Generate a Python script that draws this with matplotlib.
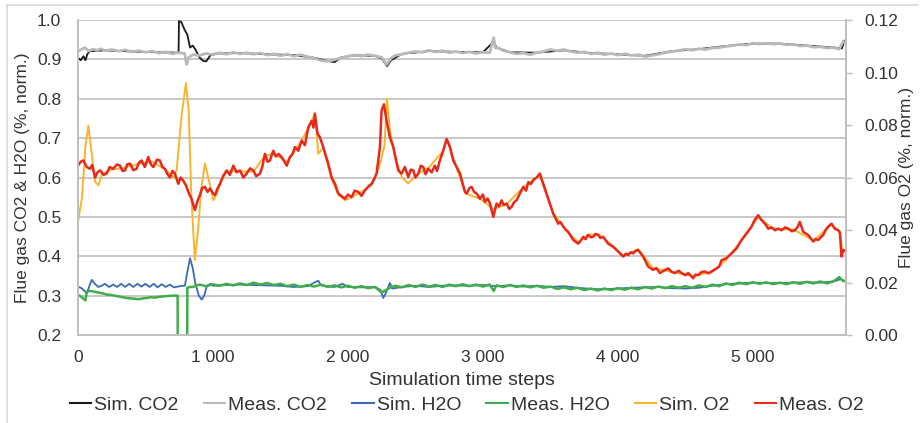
import matplotlib.pyplot as plt
from matplotlib.lines import Line2D

plt.rcParams['font.family'] = ['Liberation Sans', 'DejaVu Sans']

# Simulated / measured flue gas, left axis (CO2, H2O) in norm. %
sim_co2_t = [0, 20, 40, 55, 70, 90, 200, 400, 600, 745, 748, 765, 790, 810, 830, 850, 870, 900, 928, 950,
             980, 1020, 1200, 1400, 1600, 1750, 1850, 1900, 1950, 2050, 2200, 2250, 2290, 2320, 2400, 2600,
             2800, 3000, 3080, 3100, 3200, 3400, 3600, 3800, 4000, 4200, 4400, 4600, 4800, 5000, 5200, 5400,
             5600, 5660, 5680, 5690]
sim_co2 = [0.904, 0.898, 0.908, 0.898, 0.914, 0.921, 0.923, 0.920, 0.918, 0.917, 0.997, 0.995, 0.975, 0.963,
           0.930, 0.935, 0.925, 0.905, 0.896, 0.895, 0.910, 0.915, 0.916, 0.913, 0.911, 0.904, 0.896, 0.893,
           0.905, 0.910, 0.909, 0.902, 0.883, 0.898, 0.914, 0.921, 0.919, 0.918, 0.945, 0.930, 0.918, 0.917,
           0.923, 0.916, 0.913, 0.909, 0.921, 0.926, 0.934, 0.940, 0.940, 0.935, 0.930, 0.928, 0.948, 0.945]

meas_co2_t = [0, 25, 50, 80, 110, 140, 170, 200, 250, 300, 350, 400, 450, 500, 550, 600, 650, 700, 740, 790,
              805, 820, 850, 900, 950, 1000, 1050, 1100, 1150, 1200, 1250, 1300, 1350, 1400, 1450, 1500, 1550,
              1600, 1650, 1700, 1750, 1800, 1850, 1900, 1950, 2000, 2050, 2100, 2150, 2200, 2250, 2287, 2320,
              2350, 2400, 2450, 2500, 2550, 2600, 2650, 2700, 2750, 2800, 2850, 2900, 2950, 3000, 3050, 3080,
              3090, 3120, 3150, 3200, 3250, 3300, 3350, 3400, 3450, 3500, 3550, 3600, 3650, 3700, 3750, 3800,
              3850, 3900, 3950, 4000, 4050, 4100, 4150, 4200, 4250, 4300, 4350, 4400, 4450, 4500, 4550, 4600,
              4650, 4700, 4750, 4800, 4850, 4900, 4950, 5000, 5050, 5100, 5150, 5200, 5250, 5300, 5350, 5400,
              5450, 5500, 5550, 5600, 5640, 5670, 5690]
meas_co2 = [0.921, 0.925, 0.930, 0.921, 0.926, 0.923, 0.927, 0.922, 0.925, 0.921, 0.924, 0.919, 0.922, 0.918,
            0.921, 0.916, 0.919, 0.914, 0.917, 0.915, 0.887, 0.905, 0.912, 0.910, 0.915, 0.912, 0.917, 0.913,
            0.918, 0.914, 0.917, 0.913, 0.916, 0.911, 0.914, 0.909, 0.913, 0.908, 0.912, 0.907, 0.903, 0.897,
            0.895, 0.899, 0.904, 0.908, 0.911, 0.908, 0.912, 0.909, 0.905, 0.887, 0.903, 0.910, 0.913, 0.917,
            0.920, 0.918, 0.923, 0.919, 0.922, 0.917, 0.920, 0.916, 0.919, 0.915, 0.918, 0.917, 0.955, 0.930,
            0.928, 0.922, 0.918, 0.914, 0.916, 0.912, 0.917, 0.920, 0.925, 0.922, 0.925, 0.920, 0.917, 0.919,
            0.914, 0.917, 0.912, 0.915, 0.911, 0.914, 0.910, 0.912, 0.907, 0.910, 0.913, 0.917, 0.920, 0.922,
            0.926, 0.923, 0.927, 0.925, 0.929, 0.930, 0.933, 0.935, 0.938, 0.936, 0.941, 0.939, 0.941, 0.939,
            0.940, 0.937, 0.938, 0.934, 0.935, 0.931, 0.932, 0.929, 0.930, 0.926, 0.946, 0.940]

sim_h2o_t = [0, 30, 65, 85, 102, 125, 150, 175, 200, 230, 260, 290, 320, 350, 380, 410, 440, 470, 500, 530,
             560, 590, 620, 650, 680, 710, 740, 770, 792, 810, 830, 850, 870, 895, 916, 935, 955, 980, 1000,
             1100, 1200, 1300, 1400, 1500, 1600, 1700, 1780, 1800, 1900, 1960, 2000, 2100, 2200, 2240, 2262,
             2285, 2310, 2330, 2400, 2500, 2600, 2700, 2800, 2900, 3000, 3100, 3200, 3300, 3400, 3500, 3600,
             3700, 3800, 3900, 4000, 4100, 4200, 4300, 4400, 4500, 4600, 4700, 4800, 4900, 5000, 5100, 5200,
             5300, 5400, 5500, 5600, 5650, 5690]
sim_h2o = [0.323, 0.318, 0.306, 0.325, 0.340, 0.330, 0.322, 0.325, 0.330, 0.322, 0.328, 0.322, 0.330, 0.322,
           0.330, 0.322, 0.330, 0.323, 0.330, 0.322, 0.330, 0.321, 0.329, 0.322, 0.328, 0.321, 0.323, 0.325,
           0.325, 0.360, 0.395, 0.370, 0.330, 0.300, 0.290, 0.300, 0.325, 0.330, 0.325, 0.327, 0.328, 0.327,
           0.326, 0.325, 0.322, 0.324, 0.338, 0.326, 0.322, 0.330, 0.322, 0.321, 0.322, 0.315, 0.294, 0.310,
           0.332, 0.318, 0.322, 0.325, 0.322, 0.325, 0.326, 0.325, 0.327, 0.324, 0.326, 0.323, 0.325, 0.322,
           0.324, 0.320, 0.317, 0.316, 0.318, 0.320, 0.321, 0.322, 0.319, 0.318, 0.320, 0.325, 0.329, 0.331,
           0.333, 0.332, 0.332, 0.333, 0.334, 0.333, 0.336, 0.342, 0.336]

meas_h2o_t = [0, 20, 40, 55, 65, 90, 120, 150, 180, 210, 240, 270, 300, 330, 360, 390, 420, 450, 480, 510,
              540, 570, 600, 630, 660, 700, 738, 740, 808, 810, 830,
              850, 900, 950, 1000, 1050, 1100, 1150, 1200, 1250, 1300, 1350, 1400, 1450, 1500, 1550, 1600,
              1650, 1700, 1750, 1800, 1850, 1900, 1950, 2000, 2050, 2100, 2150, 2200, 2250, 2300, 2350, 2400,
              2450, 2500, 2550, 2600, 2650, 2700, 2750, 2800, 2850, 2900, 2950, 3000, 3050, 3080, 3100, 3150,
              3200, 3250, 3300, 3350, 3400, 3450, 3500, 3550, 3600, 3650, 3700, 3750, 3800, 3850, 3900, 3950,
              4000, 4050, 4100, 4150, 4200, 4250, 4300, 4350, 4400, 4450, 4500, 4550, 4600, 4650, 4700, 4750,
              4800, 4850, 4900, 4950, 5000, 5050, 5100, 5150, 5200, 5250, 5300, 5350, 5400, 5450, 5500, 5550,
              5600, 5640, 5665, 5690]
meas_h2o = [0.302, 0.298, 0.292, 0.288, 0.310, 0.312, 0.310, 0.308, 0.306, 0.303, 0.302, 0.300, 0.298, 0.296,
            0.294, 0.293, 0.292, 0.291, 0.293, 0.294, 0.296, 0.295, 0.297, 0.298, 0.299, 0.300, 0.300, 0.0,
            0.0, 0.320, 0.322,
            0.322, 0.328, 0.324, 0.329, 0.325, 0.330, 0.326, 0.331, 0.327, 0.333, 0.328, 0.332, 0.327, 0.330,
            0.324, 0.328, 0.322, 0.327, 0.323, 0.328, 0.322, 0.326, 0.321, 0.325, 0.320, 0.324, 0.319, 0.322,
            0.308, 0.318, 0.325, 0.321, 0.327, 0.322, 0.328, 0.323, 0.327, 0.322, 0.328, 0.324, 0.329, 0.324,
            0.328, 0.323, 0.328, 0.312, 0.326, 0.322, 0.327, 0.322, 0.326, 0.321, 0.325, 0.320, 0.323, 0.317,
            0.321, 0.316, 0.320, 0.314, 0.318, 0.313, 0.318, 0.314, 0.319, 0.315, 0.320, 0.316, 0.322, 0.318,
            0.323, 0.319, 0.324, 0.320, 0.324, 0.320, 0.326, 0.322, 0.328, 0.324, 0.331, 0.327, 0.333, 0.329,
            0.334, 0.330, 0.334, 0.329, 0.333, 0.329, 0.334, 0.330, 0.335, 0.331, 0.336, 0.331, 0.337, 0.347,
            0.338, 0.336]

# Right axis (O2) in norm. %
sim_o2_t = [0, 30, 55, 77, 95, 126, 151, 180, 250, 350, 450, 550, 650, 710, 731, 768, 800, 820, 840, 866,
            890, 916, 941, 965, 1003, 1030, 1060, 1100, 1200, 1300, 1385, 1450, 1550, 1650, 1730, 1755, 1780,
            1817, 1880, 1930, 1980, 2080, 2175, 2225, 2249, 2270, 2290, 2311, 2350, 2400, 2447, 2520, 2600,
            2700, 2735, 2790, 2870, 2980, 3077, 3175, 3300, 3420, 3520, 3630, 3710, 3780, 3860, 3965, 4040,
            4150, 4260, 4400, 4560, 4700, 4800, 4950, 5040, 5150, 5300, 5450, 5580, 5640, 5665, 5690]
sim_o2 = [0.0431, 0.0525, 0.0720, 0.0798, 0.0720, 0.0585, 0.0570, 0.0615, 0.0630, 0.0638, 0.0653, 0.0660,
          0.0630, 0.0600, 0.0630, 0.0840, 0.0960, 0.0855, 0.0525, 0.0285, 0.0405, 0.0570, 0.0653, 0.0600,
          0.0513, 0.0540, 0.0585, 0.0623, 0.0623, 0.0623, 0.0683, 0.0690, 0.0660, 0.0735, 0.0810, 0.0848,
          0.0690, 0.0713, 0.0593, 0.0533, 0.0513, 0.0540, 0.0570, 0.0630, 0.0675, 0.0720, 0.0900, 0.0780,
          0.0675, 0.0600, 0.0578, 0.0615, 0.0638, 0.0698, 0.0743, 0.0660, 0.0540, 0.0518, 0.0480, 0.0498,
          0.0563, 0.0608, 0.0465, 0.0390, 0.0353, 0.0383, 0.0383, 0.0338, 0.0300, 0.0327, 0.0255, 0.0240,
          0.0225, 0.0240, 0.0285, 0.0383, 0.0450, 0.0405, 0.0402, 0.0360, 0.0420, 0.0398, 0.0315, 0.0323]

meas_o2_t = [0, 20, 40, 65, 89, 105, 126, 145, 163, 190, 212, 235, 260, 290, 311, 330, 348, 365, 385, 410,
             434, 450, 471, 495, 521, 540, 558, 585, 607, 625, 644, 660, 681, 700, 718, 743, 760, 780, 800,
             817, 840, 866, 885, 903, 920, 941, 960, 978, 1000, 1015, 1035, 1052, 1075, 1101, 1125, 1151,
             1175, 1200, 1225, 1249, 1275, 1298, 1320, 1348, 1365, 1385, 1405, 1422, 1447, 1465, 1484, 1509,
             1530, 1546, 1570, 1590, 1607, 1632, 1657, 1681, 1706, 1731, 1745, 1755, 1775, 1792, 1817, 1854,
             1879, 1904, 1928, 1950, 1978, 2000, 2027, 2050, 2077, 2100, 2126, 2150, 2175, 2195, 2212, 2237,
             2249, 2267, 2286, 2311, 2336, 2373, 2397, 2422, 2447, 2465, 2484, 2500, 2521, 2540, 2558, 2575,
             2595, 2620, 2644, 2660, 2681, 2706, 2731, 2756, 2780, 2805, 2830, 2867, 2880, 2900, 2916, 2935,
             2953, 2978, 3000, 3015, 3035, 3052, 3077, 3101, 3120, 3138, 3155, 3175, 3195, 3212, 3230, 3249,
             3274, 3299, 3320, 3336, 3355, 3373, 3398, 3422, 3447, 3484, 3521, 3558, 3575, 3595, 3615, 3632,
             3669, 3706, 3725, 3743, 3760, 3780, 3800, 3817, 3835, 3854, 3870, 3891, 3928, 3965, 4002, 4039,
             4060, 4076, 4095, 4113, 4130, 4150, 4187, 4224, 4261, 4285, 4311, 4340, 4373, 4400, 4422, 4450,
             4472, 4500, 4521, 4558, 4575, 4595, 4620, 4644, 4670, 4694, 4731, 4750, 4768, 4805, 4842, 4879,
             4916, 4953, 4990, 5015, 5040, 5060, 5077, 5095, 5114, 5140, 5163, 5190, 5212, 5240, 5262, 5290,
             5311, 5330, 5348, 5373, 5410, 5447, 5465, 5484, 5521, 5540, 5558, 5583, 5607, 5632, 5645, 5657,
             5670, 5690]
meas_o2 = [0.0645, 0.0660, 0.0665, 0.0640, 0.0633, 0.0648, 0.0600, 0.0620, 0.0627, 0.0610, 0.0615, 0.0640,
           0.0633, 0.0650, 0.0645, 0.0625, 0.0627, 0.0650, 0.0653, 0.0628, 0.0633, 0.0655, 0.0665, 0.0640,
           0.0678, 0.0650, 0.0640, 0.0668, 0.0665, 0.0640, 0.0633, 0.0615, 0.0600, 0.0625, 0.0615, 0.0576,
           0.0600, 0.0588, 0.0570, 0.0545, 0.0520, 0.0476, 0.0510, 0.0533, 0.0560, 0.0564, 0.0545, 0.0558,
           0.0540, 0.0533, 0.0560, 0.0576, 0.0605, 0.0627, 0.0610, 0.0645, 0.0620, 0.0627, 0.0600, 0.0615,
           0.0635, 0.0627, 0.0605, 0.0615, 0.0640, 0.0690, 0.0660, 0.0665, 0.0702, 0.0680, 0.0690, 0.0678,
           0.0660, 0.0645, 0.0678, 0.0690, 0.0716, 0.0702, 0.0741, 0.0723, 0.0791, 0.0816, 0.0790, 0.0842,
           0.0767, 0.0753, 0.0716, 0.0653, 0.0600, 0.0576, 0.0539, 0.0530, 0.0519, 0.0535, 0.0525, 0.0550,
           0.0545, 0.0530, 0.0551, 0.0565, 0.0576, 0.0595, 0.0615, 0.0716, 0.0855, 0.0879, 0.0816, 0.0753,
           0.0716, 0.0627, 0.0615, 0.0640, 0.0602, 0.0630, 0.0627, 0.0600, 0.0615, 0.0645, 0.0640, 0.0612,
           0.0633, 0.0620, 0.0645, 0.0625, 0.0665, 0.0702, 0.0747, 0.0716, 0.0665, 0.0640, 0.0615, 0.0545,
           0.0539, 0.0560, 0.0564, 0.0545, 0.0539, 0.0519, 0.0535, 0.0507, 0.0520, 0.0501, 0.0450, 0.0501,
           0.0490, 0.0513, 0.0495, 0.0501, 0.0480, 0.0488, 0.0505, 0.0513, 0.0539, 0.0564, 0.0550, 0.0582,
           0.0575, 0.0590, 0.0600, 0.0615, 0.0576, 0.0519, 0.0462, 0.0424, 0.0430, 0.0413, 0.0400, 0.0393,
           0.0362, 0.0348, 0.0360, 0.0374, 0.0365, 0.0381, 0.0372, 0.0374, 0.0385, 0.0381, 0.0370, 0.0374,
           0.0348, 0.0336, 0.0318, 0.0299, 0.0310, 0.0305, 0.0315, 0.0311, 0.0320, 0.0324, 0.0299, 0.0261,
           0.0248, 0.0255, 0.0236, 0.0245, 0.0254, 0.0240, 0.0236, 0.0245, 0.0236, 0.0228, 0.0236, 0.0216,
           0.0230, 0.0228, 0.0240, 0.0242, 0.0235, 0.0242, 0.0254, 0.0260, 0.0285, 0.0293, 0.0311, 0.0330,
           0.0362, 0.0387, 0.0413, 0.0440, 0.0456, 0.0440, 0.0431, 0.0420, 0.0405, 0.0410, 0.0399, 0.0405,
           0.0399, 0.0410, 0.0405, 0.0395, 0.0399, 0.0410, 0.0431, 0.0393, 0.0381, 0.0356, 0.0365, 0.0362,
           0.0381, 0.0400, 0.0413, 0.0424, 0.0405, 0.0399, 0.0390, 0.0299, 0.0324, 0.0318]

x_ticks = [0, 1000, 2000, 3000, 4000, 5000]
x_tick_labels = ['0', '1 000', '2 000', '3 000', '4 000', '5 000']

txt = '#333333'
grid_c = '#bfbfbf'

fig = plt.figure(figsize=(9.21, 4.23), dpi=100)
ax = fig.add_axes([78 / 921, 88 / 423, 768 / 921, 315 / 423])
ax2 = ax.twinx()

l1, = ax.plot(sim_co2_t, sim_co2, color='#1a1a1a', lw=1.3, label='Sim. CO2')
l2, = ax.plot(meas_co2_t, meas_co2, color='#b9b9b9', lw=2.0, label='Meas. CO2')
l3, = ax.plot(sim_h2o_t, sim_h2o, color='#3a6ab8', lw=1.3, label='Sim. H2O')
l4, = ax.plot(meas_h2o_t, meas_h2o, color='#3fae4a', lw=1.8, label='Meas. H2O')
l5, = ax2.plot(sim_o2_t, sim_o2, color='#f7b52c', lw=1.4, label='Sim. O2')
l6, = ax2.plot(meas_o2_t, meas_o2, color='#e8281c', lw=1.8, label='Meas. O2')

ax.set_xlim(0, 5690)
ax.set_ylim(0.2, 1.0)
ax2.set_ylim(0, 0.12)

ax.set_yticks([0.2, 0.3, 0.4, 0.5, 0.6, 0.7, 0.8, 0.9, 1.0])
ax.set_yticklabels([f'{v:.1f}' for v in ax.get_yticks()])
ax2.set_yticks([0, 0.02, 0.04, 0.06, 0.08, 0.10, 0.12])
ax2.set_yticklabels([f'{v:.2f}' for v in ax2.get_yticks()])
ax.set_xticks(x_ticks)
ax.set_xticklabels(x_tick_labels)

ax.yaxis.grid(True, color=grid_c, lw=1.2)
ax.set_axisbelow(True)
ax.tick_params(axis='both', length=0, labelsize=12.5, labelcolor=txt)
ax.tick_params(axis='y', pad=12)
ax.tick_params(axis='x', pad=11)
ax2.tick_params(axis='y', length=4, width=1, color=grid_c, labelsize=12.5, labelcolor=txt, pad=9)

for a in (ax, ax2):
    a.spines['top'].set_visible(False)
    for s in ('left', 'right', 'bottom'):
        a.spines[s].set_color(grid_c)
        a.spines[s].set_linewidth(1.2)

ax.set_xlabel('Simulation time steps', fontsize=14, color=txt)
ax.xaxis.set_label_coords(0.5, -0.118)
ax.set_ylabel('Flue gas CO2 & H2O (%, norm.)', fontsize=12.5, color=txt)
ax.yaxis.set_label_coords(-0.0625, 0.5)
ax2.set_ylabel('Flue gas O2 (%, norm.)', fontsize=12.5, color=txt)
ax2.yaxis.set_label_coords(1.069, 0.5)

leg = fig.legend(handles=[l1, l2, l3, l4, l5, l6], loc='center', bbox_to_anchor=(467 / 921, 1 - 405 / 423),
                 ncol=6, frameon=False, fontsize=14, handlelength=1.1, handletextpad=0.15, columnspacing=1.3,
                 labelcolor=txt)
for h in leg.legend_handles:
    h.set_linewidth(1.5)

# outer chart frame (top and left edges)
frame_c = '#d9d9d9'
fig.add_artist(Line2D([7 / 921, 7 / 921], [0, 1 - 5 / 423], color=frame_c, lw=1.2, transform=fig.transFigure))
fig.add_artist(Line2D([7 / 921, 918 / 921], [1 - 5 / 423, 1 - 5 / 423], color=frame_c, lw=1.2,
                      transform=fig.transFigure))

fig.savefig('out.png', dpi=100)
